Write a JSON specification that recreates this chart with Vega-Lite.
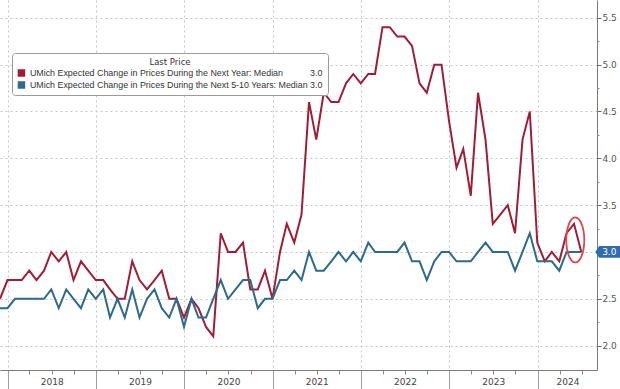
{
  "$schema": "https://vega.github.io/schema/vega-lite/v6.json",
  "width": 597,
  "height": 370,
  "autosize": {"type": "none"},
  "padding": {"left": 0, "top": 0, "right": 23, "bottom": 19},
  "background": "white",
  "config": {"view": {"stroke": null}, "font": "Liberation Sans"},
  "datasets": {
    "umich": [
      {"date": "2017-11-30", "oneYear": 2.5, "fiveTen": 2.4},
      {"date": "2017-12-31", "oneYear": 2.7, "fiveTen": 2.4},
      {"date": "2018-01-31", "oneYear": 2.7, "fiveTen": 2.5},
      {"date": "2018-02-28", "oneYear": 2.7, "fiveTen": 2.5},
      {"date": "2018-03-31", "oneYear": 2.8, "fiveTen": 2.5},
      {"date": "2018-04-30", "oneYear": 2.7, "fiveTen": 2.5},
      {"date": "2018-05-31", "oneYear": 2.8, "fiveTen": 2.5},
      {"date": "2018-06-30", "oneYear": 3.0, "fiveTen": 2.6},
      {"date": "2018-07-31", "oneYear": 2.9, "fiveTen": 2.4},
      {"date": "2018-08-31", "oneYear": 3.0, "fiveTen": 2.6},
      {"date": "2018-09-30", "oneYear": 2.7, "fiveTen": 2.5},
      {"date": "2018-10-31", "oneYear": 2.9, "fiveTen": 2.4},
      {"date": "2018-11-30", "oneYear": 2.8, "fiveTen": 2.6},
      {"date": "2018-12-31", "oneYear": 2.7, "fiveTen": 2.5},
      {"date": "2019-01-31", "oneYear": 2.7, "fiveTen": 2.6},
      {"date": "2019-02-28", "oneYear": 2.6, "fiveTen": 2.3},
      {"date": "2019-03-31", "oneYear": 2.5, "fiveTen": 2.5},
      {"date": "2019-04-30", "oneYear": 2.5, "fiveTen": 2.3},
      {"date": "2019-05-31", "oneYear": 2.9, "fiveTen": 2.6},
      {"date": "2019-06-30", "oneYear": 2.7, "fiveTen": 2.3},
      {"date": "2019-07-31", "oneYear": 2.6, "fiveTen": 2.5},
      {"date": "2019-08-31", "oneYear": 2.7, "fiveTen": 2.6},
      {"date": "2019-09-30", "oneYear": 2.8, "fiveTen": 2.4},
      {"date": "2019-10-31", "oneYear": 2.5, "fiveTen": 2.3},
      {"date": "2019-11-30", "oneYear": 2.5, "fiveTen": 2.5},
      {"date": "2019-12-31", "oneYear": 2.3, "fiveTen": 2.2},
      {"date": "2020-01-31", "oneYear": 2.5, "fiveTen": 2.5},
      {"date": "2020-02-29", "oneYear": 2.4, "fiveTen": 2.3},
      {"date": "2020-03-31", "oneYear": 2.2, "fiveTen": 2.3},
      {"date": "2020-04-30", "oneYear": 2.1, "fiveTen": 2.5},
      {"date": "2020-05-31", "oneYear": 3.2, "fiveTen": 2.7},
      {"date": "2020-06-30", "oneYear": 3.0, "fiveTen": 2.5},
      {"date": "2020-07-31", "oneYear": 3.0, "fiveTen": 2.6},
      {"date": "2020-08-31", "oneYear": 3.1, "fiveTen": 2.7},
      {"date": "2020-09-30", "oneYear": 2.6, "fiveTen": 2.7},
      {"date": "2020-10-31", "oneYear": 2.6, "fiveTen": 2.4},
      {"date": "2020-11-30", "oneYear": 2.8, "fiveTen": 2.5},
      {"date": "2020-12-31", "oneYear": 2.5, "fiveTen": 2.5},
      {"date": "2021-01-31", "oneYear": 3.0, "fiveTen": 2.7},
      {"date": "2021-02-28", "oneYear": 3.3, "fiveTen": 2.7},
      {"date": "2021-03-31", "oneYear": 3.1, "fiveTen": 2.8},
      {"date": "2021-04-30", "oneYear": 3.4, "fiveTen": 2.7},
      {"date": "2021-05-31", "oneYear": 4.6, "fiveTen": 3.0},
      {"date": "2021-06-30", "oneYear": 4.2, "fiveTen": 2.8},
      {"date": "2021-07-31", "oneYear": 4.7, "fiveTen": 2.8},
      {"date": "2021-08-31", "oneYear": 4.6, "fiveTen": 2.9},
      {"date": "2021-09-30", "oneYear": 4.6, "fiveTen": 3.0},
      {"date": "2021-10-31", "oneYear": 4.8, "fiveTen": 2.9},
      {"date": "2021-11-30", "oneYear": 4.9, "fiveTen": 3.0},
      {"date": "2021-12-31", "oneYear": 4.8, "fiveTen": 2.9},
      {"date": "2022-01-31", "oneYear": 4.9, "fiveTen": 3.1},
      {"date": "2022-02-28", "oneYear": 4.9, "fiveTen": 3.0},
      {"date": "2022-03-31", "oneYear": 5.4, "fiveTen": 3.0},
      {"date": "2022-04-30", "oneYear": 5.4, "fiveTen": 3.0},
      {"date": "2022-05-31", "oneYear": 5.3, "fiveTen": 3.0},
      {"date": "2022-06-30", "oneYear": 5.3, "fiveTen": 3.1},
      {"date": "2022-07-31", "oneYear": 5.2, "fiveTen": 2.9},
      {"date": "2022-08-31", "oneYear": 4.8, "fiveTen": 2.9},
      {"date": "2022-09-30", "oneYear": 4.7, "fiveTen": 2.7},
      {"date": "2022-10-31", "oneYear": 5.0, "fiveTen": 2.9},
      {"date": "2022-11-30", "oneYear": 5.0, "fiveTen": 3.0},
      {"date": "2022-12-31", "oneYear": 4.4, "fiveTen": 3.0},
      {"date": "2023-01-31", "oneYear": 3.9, "fiveTen": 2.9},
      {"date": "2023-02-28", "oneYear": 4.1, "fiveTen": 2.9},
      {"date": "2023-03-31", "oneYear": 3.6, "fiveTen": 2.9},
      {"date": "2023-04-30", "oneYear": 4.7, "fiveTen": 3.0},
      {"date": "2023-05-31", "oneYear": 4.2, "fiveTen": 3.1},
      {"date": "2023-06-30", "oneYear": 3.3, "fiveTen": 3.0},
      {"date": "2023-07-31", "oneYear": 3.4, "fiveTen": 3.0},
      {"date": "2023-08-31", "oneYear": 3.5, "fiveTen": 3.0},
      {"date": "2023-09-30", "oneYear": 3.2, "fiveTen": 2.8},
      {"date": "2023-10-31", "oneYear": 4.2, "fiveTen": 3.0},
      {"date": "2023-11-30", "oneYear": 4.5, "fiveTen": 3.2},
      {"date": "2023-12-31", "oneYear": 3.1, "fiveTen": 2.9},
      {"date": "2024-01-31", "oneYear": 2.9, "fiveTen": 2.9},
      {"date": "2024-02-29", "oneYear": 3.0, "fiveTen": 2.9},
      {"date": "2024-03-31", "oneYear": 2.9, "fiveTen": 2.8},
      {"date": "2024-04-30", "oneYear": 3.2, "fiveTen": 3.0},
      {"date": "2024-05-31", "oneYear": 3.3, "fiveTen": 3.0},
      {"date": "2024-06-30", "oneYear": 3.0, "fiveTen": 3.0}
    ],
    "last": [{"date": "2024-06-30", "value": 3.0, "label": "3.0"}]
  },
  "resolve": {"axis": {"x": "independent", "y": "independent"}},
  "layer": [
    {
      "data": {"name": "umich"},
      "transform": [{"fold": ["oneYear", "fiveTen"], "as": ["series", "value"]}],
      "mark": {"type": "line", "strokeWidth": 2},
      "encoding": {
        "x": {
          "field": "date", "type": "temporal",
          "scale": {"type": "utc", "domain": [{"year": 2017, "month": 11, "date": 30, "utc": true}, {"year": 2024, "month": 9, "date": 3, "utc": true}]},
          "axis": {
            "orient": "bottom", "title": null, "labels": false, "grid": true, "gridDash": [2, 3], "gridColor": "#c4c4c4",
            "tickSize": 20, "tickColor": "#a0a0a0", "domainColor": "#7a7a7a",
            "values": [
              {"year": 2018, "month": 1, "date": 1, "utc": true},
              {"year": 2019, "month": 1, "date": 1, "utc": true},
              {"year": 2020, "month": 1, "date": 1, "utc": true},
              {"year": 2021, "month": 1, "date": 1, "utc": true},
              {"year": 2022, "month": 1, "date": 1, "utc": true},
              {"year": 2023, "month": 1, "date": 1, "utc": true},
              {"year": 2024, "month": 1, "date": 1, "utc": true}
            ]
          }
        },
        "y": {
          "field": "value", "type": "quantitative",
          "scale": {"domain": [1.74, 5.69], "nice": false, "zero": false},
          "axis": {
            "orient": "right", "title": null, "values": [2, 2.5, 3, 3.5, 4, 4.5, 5, 5.5],
            "format": ".1f", "labelExpr": "datum.value == 3 ? '' : datum.label",
            "grid": true, "gridDash": [2, 3], "gridColor": "#c4c4c4",
            "tickSize": 4, "tickColor": "#666", "domainColor": "#7a7a7a",
            "labelFontSize": 9, "labelColor": "#555", "labelPadding": 1, "labelFont": "DejaVu Sans"
          }
        },
        "color": {
          "field": "series", "type": "nominal",
          "scale": {"domain": ["oneYear", "fiveTen"], "range": ["#a01e35", "#2e6a8a"]},
          "legend": {
            "orient": "none", "legendX": 12, "legendY": 53,
            "title": "Last Price", "titleAnchor": "middle", "titleFontWeight": "normal",
            "titleFontSize": 8.5, "titleColor": "#333", "titlePadding": 2, "titleFont": "DejaVu Sans",
            "labelFontSize": 8.9, "labelColor": "#333", "labelLimit": 600, "labelFont": "Liberation Sans",
            "symbolType": "square", "symbolSize": 9, "symbolStrokeWidth": 4.5, "symbolOpacity": 1,
            "clipHeight": 9,
            "labelOffset": 4, "rowPadding": 2, "padding": 5,
            "strokeColor": "#9a9a9a", "fillColor": "white", "cornerRadius": 3,
            "labelExpr": "datum.value == 'oneYear' ? 'UMich Expected Change in Prices During the Next Year: Median\u00a0\u00a0\u00a0\u00a0\u00a0\u00a0\u00a0\u00a0\u00a0\u00a0\u00a03.0' : 'UMich Expected Change in Prices During the Next 5-10 Years: Median 3.0'"
          }
        }
      }
    },
    {
      "data": {"name": "last"},
      "mark": {
        "type": "point",
        "shape": "M0,-1 C0.2209,-1 0.4,-0.5523 0.4,0 C0.4,0.5523 0.2209,1 0,1 C-0.2209,1 -0.4,0.5523 -0.4,0 C-0.4,-0.5523 -0.2209,-1 0,-1 Z",
        "size": 2025, "filled": false, "stroke": "#e0474c", "strokeWidth": 1.8, "opacity": 1,
        "xOffset": -6, "yOffset": -12
      },
      "encoding": {
        "x": {
          "field": "date", "type": "temporal",
          "scale": {"type": "utc", "domain": [{"year": 2017, "month": 11, "date": 30, "utc": true}, {"year": 2024, "month": 9, "date": 3, "utc": true}]},
          "axis": {
            "orient": "bottom", "title": null, "labels": false, "grid": false, "domain": false, "tickSize": 4, "tickColor": "#8a8a8a",
            "values": [
              {"year": 2018, "month": 4, "date": 1, "utc": true}, {"year": 2018, "month": 7, "date": 1, "utc": true}, {"year": 2018, "month": 10, "date": 1, "utc": true},
              {"year": 2019, "month": 4, "date": 1, "utc": true}, {"year": 2019, "month": 7, "date": 1, "utc": true}, {"year": 2019, "month": 10, "date": 1, "utc": true},
              {"year": 2020, "month": 4, "date": 1, "utc": true}, {"year": 2020, "month": 7, "date": 1, "utc": true}, {"year": 2020, "month": 10, "date": 1, "utc": true},
              {"year": 2021, "month": 4, "date": 1, "utc": true}, {"year": 2021, "month": 7, "date": 1, "utc": true}, {"year": 2021, "month": 10, "date": 1, "utc": true},
              {"year": 2022, "month": 4, "date": 1, "utc": true}, {"year": 2022, "month": 7, "date": 1, "utc": true}, {"year": 2022, "month": 10, "date": 1, "utc": true},
              {"year": 2023, "month": 4, "date": 1, "utc": true}, {"year": 2023, "month": 7, "date": 1, "utc": true}, {"year": 2023, "month": 10, "date": 1, "utc": true},
              {"year": 2024, "month": 4, "date": 1, "utc": true}, {"year": 2024, "month": 7, "date": 1, "utc": true}
            ]
          }
        },
        "y": {
          "field": "value", "type": "quantitative",
          "scale": {"domain": [1.74, 5.69], "nice": false, "zero": false},
          "axis": {
            "orient": "right", "title": null, "labels": false, "grid": false, "domain": false,
            "tickSize": 2, "tickColor": "#888",
            "values": [2.25, 2.75, 3.25, 3.75, 4.25, 4.75, 5.25]
          }
        }
      }
    },
    {
      "data": {"name": "last"},
      "mark": {
        "type": "point",
        "shape": "M-1,0 L-0.7,-0.45 L1,-0.45 L1,0.45 L-0.7,0.45 Z",
        "size": 676, "filled": true, "fill": "#2f6cad", "strokeWidth": 0, "opacity": 1,
        "xOffset": 27
      },
      "encoding": {
        "x": {
          "field": "date", "type": "temporal",
          "scale": {"type": "utc", "domain": [{"year": 2017, "month": 11, "date": 30, "utc": true}, {"year": 2024, "month": 9, "date": 3, "utc": true}]},
          "axis": {
            "orient": "bottom", "title": null, "ticks": false, "grid": false, "domain": false, "format": "%Y",
            "labelPadding": 7, "labelFontSize": 9, "labelColor": "#444", "labelFlush": false, "labelFont": "DejaVu Sans",
            "values": [
              {"year": 2018, "month": 7, "date": 2, "utc": true},
              {"year": 2019, "month": 7, "date": 2, "utc": true},
              {"year": 2020, "month": 7, "date": 2, "utc": true},
              {"year": 2021, "month": 7, "date": 2, "utc": true},
              {"year": 2022, "month": 7, "date": 2, "utc": true},
              {"year": 2023, "month": 7, "date": 2, "utc": true},
              {"year": 2024, "month": 5, "date": 4, "utc": true}
            ]
          }
        },
        "y": {
          "field": "value", "type": "quantitative",
          "scale": {"domain": [1.74, 5.69], "nice": false, "zero": false},
          "axis": null
        }
      }
    },
    {
      "data": {"name": "last"},
      "mark": {"type": "text", "dx": 28, "color": "white", "fontSize": 9, "align": "center", "baseline": "middle", "font": "DejaVu Sans"},
      "encoding": {
        "x": {
          "field": "date", "type": "temporal",
          "scale": {"type": "utc", "domain": [{"year": 2017, "month": 11, "date": 30, "utc": true}, {"year": 2024, "month": 9, "date": 3, "utc": true}]},
          "axis": null
        },
        "y": {
          "field": "value", "type": "quantitative",
          "scale": {"domain": [1.74, 5.69], "nice": false, "zero": false},
          "axis": null
        },
        "text": {"field": "label", "type": "nominal"}
      }
    }
  ]
}
